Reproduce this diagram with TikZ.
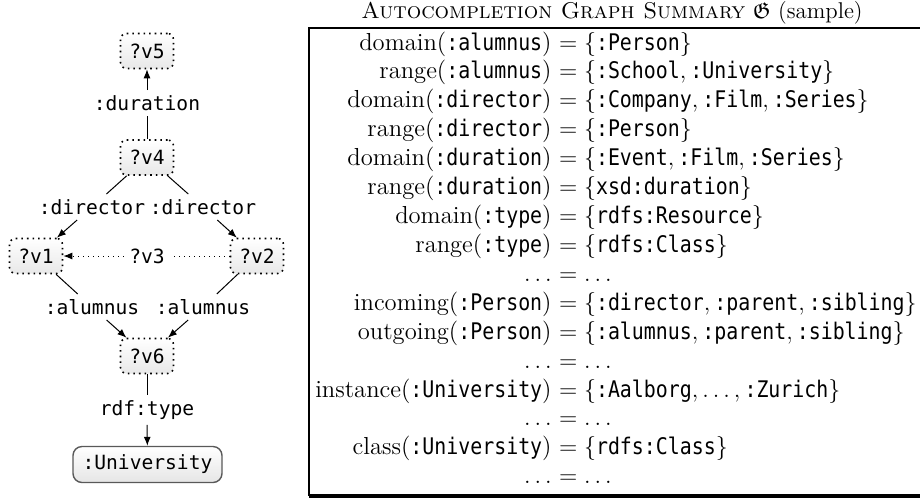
\documentclass[tikz,border=0pt]{standalone}
\usepackage{amssymb}
\usepackage{fontspec}
\newfontfamily\grtt{DejaVu Sans Mono}
\newfontfamily\tabtt{DejaVu Sans Mono}[FakeStretch=0.87, Scale=0.93]
\usetikzlibrary{arrows.meta}
\newcommand\grfont{\fontsize{9.8pt}{12pt}\selectfont\grtt}
\newcommand\tabfont{\fontsize{12.3pt}{14pt}\selectfont}
\newcommand\tn[1]{\mbox{\tabtt #1}}
\tikzset{
  vnode/.style={draw, dotted, line width=0.8pt, rounded corners=3pt,
    top color=white, bottom color=gray!18, minimum width=26.5pt,
    minimum height=17.5pt, inner sep=0pt, font=\grfont},
  cnode/.style={draw=gray!70!black, line width=0.7pt, rounded corners=4.5pt,
    top color=white, bottom color=gray!20, minimum width=74.5pt,
    minimum height=18pt, inner sep=0pt, font=\grfont},
  elabel/.style={inner sep=2.5pt, font=\grfont},
  edge/.style={line width=0.5pt},
  arr/.style={edge, -{Latex[length=4.5pt,width=3.5pt]}},
  lcell/.style={anchor=base east, inner sep=0pt, font=\tabfont},
  rcell/.style={anchor=base west, inner sep=0pt, font=\tabfont},
}
\newcommand\tabrow[4]{%
  \node[lcell] (#1l) at (552,{50+28.92*#2}) {#3};
  \node[rcell] (#1r) at (552,{50+28.92*#2}) {#4};}
\begin{document}
\begin{tikzpicture}[x=0.5pt,y=-0.5pt]
\useasboundingbox (0,0) rectangle (920,500);
\clip (0,0) rectangle (920,500);
% graph
\node[vnode] (v5) at (147,51) {?v5};
\node[elabel] (ldur) at (147,103) {:duration};
\node[vnode] (v4) at (147,157.5) {?v4};
\node[elabel] (ldir1) at (92,207) {:director};
\node[elabel] (ldir2) at (203,207) {:director};
\node[vnode] (v1) at (36,256) {?v1};
\node[vnode] (v2) at (257,256) {?v2};
\node[elabel] (lv3) at (147,256) {?v3};
\node[elabel] (lal1) at (92,307) {:alumnus};
\node[elabel] (lal2) at (203,307) {:alumnus};
\node[vnode] (v6) at (147,356) {?v6};
\node[elabel] (ltype) at (147,410) {rdf:type};
\node[cnode] (uni) at (147.5,464.5) {:University};
\draw[edge] (v4) -- (ldur); \draw[arr] (ldur) -- (v5);
\draw[edge] (v4) -- (ldir1); \draw[arr] (ldir1) -- (v1);
\draw[edge] (v4) -- (ldir2); \draw[arr] (ldir2) -- (v2);
\draw[edge,dotted] (v2) -- (lv3); \draw[arr,dotted] (lv3) -- (v1);
\draw[edge] (v1) -- (lal1); \draw[arr] (lal1) -- (v6);
\draw[edge] (v2) -- (lal2); \draw[arr] (lal2) -- (v6);
\draw[edge] (v6) -- (ltype); \draw[arr] (ltype) -- (uni);
% table
\node[font=\fontsize{11.4pt}{14pt}\selectfont, inner sep=0pt] (title) at (612,13) {\textsc{Autocompletion Graph Summary} $\mathfrak{G}$ (sample)};
\draw[line width=0.6pt] (930,28) -- (309,28) -- (309,495) -- (930,495);
\draw[line width=1.5pt] (309,496) -- (930,496);
\tabrow{a}{0}{domain(\tn{:alumnus})}{${}=\{\tn{:Person}\}$}
\tabrow{b}{1}{range(\tn{:alumnus})}{${}=\{\tn{:School},\tn{:University}\}$}
\tabrow{c}{2}{domain(\tn{:director})}{${}=\{\tn{:Company},\tn{:Film},\tn{:Series}\}$}
\tabrow{d}{3}{range(\tn{:director})}{${}=\{\tn{:Person}\}$}
\tabrow{e}{4}{domain(\tn{:duration})}{${}=\{\tn{:Event},\tn{:Film},\tn{:Series}\}$}
\tabrow{f}{5}{range(\tn{:duration})}{${}=\{\tn{xsd:duration}\}$}
\tabrow{g}{6}{domain(\tn{:type})}{${}=\{\tn{rdfs:Resource}\}$}
\tabrow{h}{7}{range(\tn{:type})}{${}=\{\tn{rdfs:Class}\}$}
\tabrow{i}{8}{$\ldots$}{${}=\ldots$}
\tabrow{j}{9}{incoming(\tn{:Person})}{${}=\{\tn{:director},\tn{:parent},\tn{:sibling}\}$}
\tabrow{k}{10}{outgoing(\tn{:Person})}{${}=\{\tn{:alumnus},\tn{:parent},\tn{:sibling}\}$}
\tabrow{l}{11}{$\ldots$}{${}=\ldots$}
\tabrow{m}{12}{instance(\tn{:University})}{${}=\{\tn{:Aalborg},\ldots,\tn{:Zurich}\}$}
\tabrow{n}{13}{$\ldots$}{${}=\ldots$}
\tabrow{o}{14}{class(\tn{:University})}{${}=\{\tn{rdfs:Class}\}$}
\tabrow{p}{15}{$\ldots$}{${}=\ldots$}
\end{tikzpicture}
\end{document}
